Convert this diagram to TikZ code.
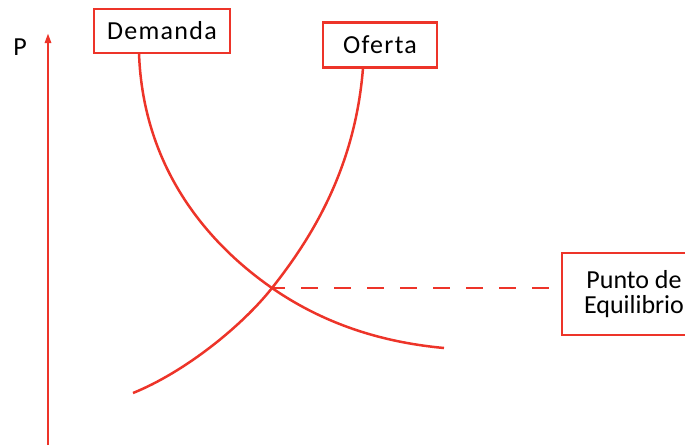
\documentclass[tikz,border=0pt]{standalone}
\usepackage{fontspec}
\setmainfont{Carlito}
\usetikzlibrary{arrows.meta}
\definecolor{curvered}{RGB}{237,52,41}
\begin{document}
\begin{tikzpicture} [x=1pt,y=-1pt,line width=2.5pt,
  every node/.style={font=\fontsize{26}{25}\selectfont,text=black},
  lbox/.style={draw=curvered,line width=2.8pt,inner sep=0pt}]
\useasboundingbox (0,0) rectangle (685,445);
\node[lbox,minimum width=136pt,minimum height=44pt] (dem) at (162,31)
  {\addfontfeature{LetterSpace=5}Demanda};
\node[lbox,minimum width=114pt,minimum height=45pt] (of) at (380,45)
  {\addfontfeature{LetterSpace=5}Oferta};
\node[lbox,minimum width=144pt,minimum height=82pt,align=center] (pe) at (634,294)
  {Punto de\\Equilibrio};
\node (p) at (20,47) {P};
\coordinate (ax0) at (48,445); \coordinate (ax1) at (48,33);
\coordinate (eq) at (272,288);
\coordinate (d0) at (139,53); \coordinate (d1) at (444,348);
\coordinate (o0) at (363,68); \coordinate (o1) at (133,393);

  \draw[curvered,-{Triangle[length=10pt,width=6pt]}] (ax0) -- (ax1);
  % demanda
  \draw[curvered] (d0) .. controls (143,170) and (210,245) .. (eq)
    .. controls (330,328) and (390,343) .. (d1);
  % oferta
  \draw[curvered] (o0) .. controls (355,170) and (310,240) .. (eq)
    .. controls (242,326) and (185,372) .. (o1);
  \draw[curvered,dash pattern=on 17pt off 16pt,dash phase=4pt] (eq) -- (eq -| pe.west);
\end{tikzpicture}
\end{document}
